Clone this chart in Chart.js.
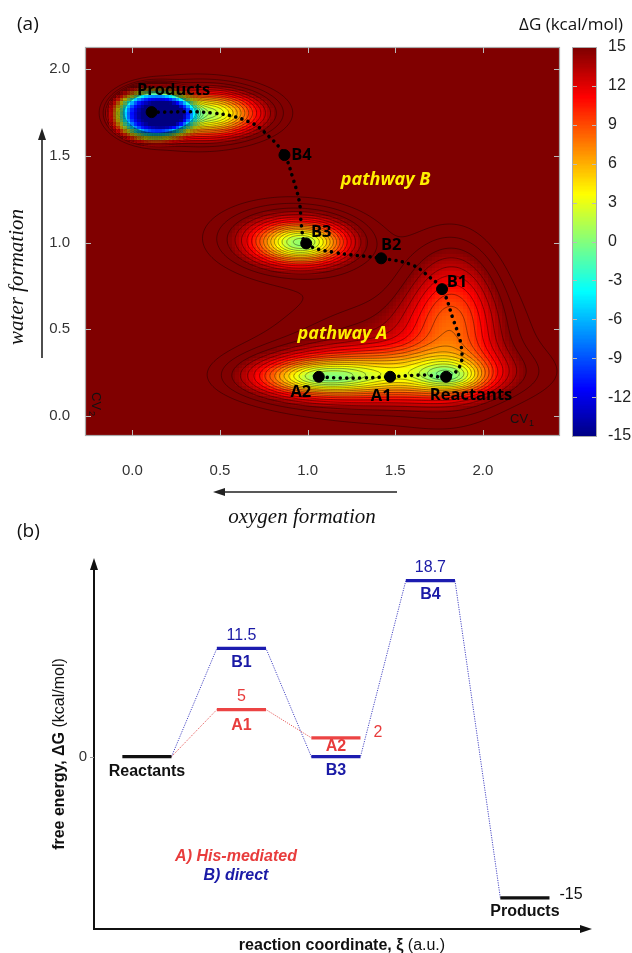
<!DOCTYPE html>
<html>
<head>
<meta charset="utf-8">
<script src="https://cdn.jsdelivr.net/npm/chart.js@4.4.1/dist/chart.umd.min.js"></script>
<style>
  body { margin: 0; background: #fff; }
  #wrap { position: relative; width: 632px; height: 953px; }
  #fes { position: absolute; left: 0; top: 0; }
  #profile { position: absolute; left: 0; top: 510px; }
</style>
</head>
<body>
<div id="wrap">
  <canvas id="fes" width="632" height="545"></canvas>
  <canvas id="profile" width="632" height="443"></canvas>
</div>
<script>
// ---------- panel (a): free energy surface on CV1 / CV2 ----------
const cv1Range = [-0.27, 2.44];
const cv2Range = [-0.117, 2.129];
const cvTicks = [0.0, 0.5, 1.0, 1.5, 2.0];
const dgRange = [-15, 15];
const dgTicks = [-15, -12, -9, -6, -3, 0, 3, 6, 9, 12, 15];

// basins: centre, depth below the flat plateau, widths, flatness
const plateau = 19;
const wellCV1   = [0.12, 0.42, 0.30, 0.97, 0.90, 1.82, 1.06, 1.45, 1.83, 1.50, 1.00];
const wellCV2   = [1.748, 1.748, 1.75, 1.00, 1.03, 0.23, 0.225, 0.24, 0.60, 0.35, 0.22];
const wellDepth = [28, 15, 3, 12, 6.5, 5.5, 5.5, 8.5, 7.5, 5, 4];
const wellSig1  = [0.18, 0.22, 0.38, 0.17, 0.32, 0.13, 0.20, 0.45, 0.19, 0.55, 0.30];
const wellSig2  = [0.12, 0.09, 0.18, 0.08, 0.15, 0.06, 0.06, 0.10, 0.30, 0.28, 0.10];
const wellPower = [2, 1, 1, 1, 1, 1, 1, 1, 1, 1, 1];

// states on the map
const stateName = ['Products', 'B4', 'B3', 'B2', 'B1', 'Reactants', 'A1', 'A2'];
const stateCV1  = [0.11, 0.868, 0.992, 1.42, 1.767, 1.79, 1.471, 1.064];
const stateCV2  = [1.753, 1.505, 0.995, 0.909, 0.731, 0.225, 0.225, 0.225];

// dotted minimum free energy path
const pathCV1 = [0.11, 0.458, 0.669, 0.783, 0.868, 0.914, 0.954, 0.966, 0.992, 1.142, 1.42, 1.598, 1.695, 1.767,
                 1.826, 1.877, 1.866, 1.79, 1.678, 1.471, 1.313, 1.182, 1.064];
const pathCV2 = [1.753, 1.748, 1.696, 1.609, 1.505, 1.378, 1.228, 1.089, 0.995, 0.945, 0.909, 0.870, 0.801, 0.731,
                 0.570, 0.397, 0.281, 0.225, 0.235, 0.225, 0.218, 0.218, 0.225];

// ---------- panel (b): free energy profile ----------
const levelName = ['Reactants', 'B1', 'A1', 'A2', 'B3', 'B4', 'Products'];
const levelSlot = [0, 1, 1, 2, 2, 3, 4];
const levelDG   = [0, 11.5, 5, 2, 0, 18.7, -15];
const levelShowValue = [false, true, true, true, false, true, true];
const pathwayA = ['Reactants', 'A1', 'A2'];
const pathwayB = ['Reactants', 'B1', 'B3', 'B4', 'Products'];

// ---------- styles ----------
const cellStep = 0.02;
const contourStep = 0.01;
const contourMin = -4, contourMax = 17;
const labelOffset = {
  Products: [22, -22], B4: [17, 0], B3: [15, -11], B2: [10, -13],
  B1: [15, -7], Reactants: [25, 19], A1: [-9, 20], A2: [-18, 16]
};
const levelHalf = 0.26;
const levelColor = { Reactants: '#111', Products: '#111', B1: '#1c1cb0', B3: '#1c1cb0', B4: '#1c1cb0', A1: '#ec4444', A2: '#ec4444' };
const textColor = { Reactants: '#111', Products: '#111', B1: '#1a1aa6', B3: '#1a1aa6', B4: '#1a1aa6', A1: '#e83c3c', A2: '#e83c3c' };

function energyAt(c1, c2) {
  let e = plateau;
  for (let k = 0; k < wellCV1.length; k++) {
    const a = (c1 - wellCV1[k]) / wellSig1[k];
    const b = (c2 - wellCV2[k]) / wellSig2[k];
    e -= wellDepth[k] * Math.exp(-0.5 * Math.pow(a * a + b * b, wellPower[k]));
  }
  return e;
}

function jet(v) {
  let t = (v - dgRange[0]) / (dgRange[1] - dgRange[0]);
  t = Math.max(0, Math.min(1, t));
  const c = u => Math.round(255 * Math.max(0, Math.min(1, u)));
  return 'rgb(' + c(1.5 - Math.abs(4 * t - 3)) + ',' + c(1.5 - Math.abs(4 * t - 2)) + ',' + c(1.5 - Math.abs(4 * t - 1)) + ')';
}

const surfacePlugin = {
  id: 'surface',
  beforeDatasetsDraw(chart) {
    const { ctx, chartArea: a, scales } = chart;
    const sx = scales.x, sy = scales.y, cb = scales.cb;
    ctx.save();
    ctx.beginPath();
    ctx.rect(a.left, a.top, a.right - a.left, a.bottom - a.top);
    ctx.clip();
    // coloured cells
    const n1 = Math.ceil((cv1Range[1] - cv1Range[0]) / cellStep);
    const n2 = Math.ceil((cv2Range[1] - cv2Range[0]) / cellStep);
    for (let i = 0; i < n1; i++) {
      const c1 = cv1Range[0] + i * cellStep;
      const xa = Math.floor(sx.getPixelForValue(c1)), xb = Math.ceil(sx.getPixelForValue(c1 + cellStep));
      for (let j = 0; j < n2; j++) {
        const c2 = cv2Range[0] + j * cellStep;
        const ya = Math.floor(sy.getPixelForValue(c2 + cellStep)), yb = Math.ceil(sy.getPixelForValue(c2));
        ctx.fillStyle = jet(energyAt(c1 + cellStep / 2, c2 + cellStep / 2));
        ctx.fillRect(xa, ya, xb - xa + 1, yb - ya + 1);
      }
    }
    // contour lines, marching squares
    const m1 = Math.ceil((cv1Range[1] - cv1Range[0]) / contourStep) + 1;
    const m2 = Math.ceil((cv2Range[1] - cv2Range[0]) / contourStep) + 1;
    const gx = [], gy = [], g = [];
    for (let i = 0; i < m1; i++) gx.push(sx.getPixelForValue(cv1Range[0] + i * contourStep));
    for (let j = 0; j < m2; j++) gy.push(sy.getPixelForValue(cv2Range[0] + j * contourStep));
    for (let i = 0; i < m1; i++) {
      const row = [];
      for (let j = 0; j < m2; j++) row.push(energyAt(cv1Range[0] + i * contourStep, cv2Range[0] + j * contourStep));
      g.push(row);
    }
    ctx.strokeStyle = 'rgba(0,0,0,0.55)';
    ctx.lineWidth = 0.7;
    ctx.beginPath();
    for (let i = 0; i < m1 - 1; i++) {
      for (let j = 0; j < m2 - 1; j++) {
        const v = [g[i][j], g[i + 1][j], g[i + 1][j + 1], g[i][j + 1]];
        const px = [gx[i], gx[i + 1], gx[i + 1], gx[i]];
        const py = [gy[j], gy[j], gy[j + 1], gy[j + 1]];
        const lo = Math.min(v[0], v[1], v[2], v[3]), hi = Math.max(v[0], v[1], v[2], v[3]);
        for (let L = Math.max(contourMin, Math.ceil(lo)); L <= Math.min(contourMax, Math.floor(hi)); L++) {
          const pts = [];
          for (let e = 0; e < 4; e++) {
            const p = e, q = (e + 1) % 4;
            if ((v[p] < L) !== (v[q] < L)) {
              const t = (L - v[p]) / (v[q] - v[p]);
              pts.push(px[p] + t * (px[q] - px[p]), py[p] + t * (py[q] - py[p]));
            }
          }
          if (pts.length >= 4) { ctx.moveTo(pts[0], pts[1]); ctx.lineTo(pts[2], pts[3]); }
          if (pts.length === 8) { ctx.moveTo(pts[4], pts[5]); ctx.lineTo(pts[6], pts[7]); }
        }
      }
    }
    ctx.stroke();
    ctx.restore();

    // colour bar
    ctx.save();
    const nb = 300, db = (dgRange[1] - dgRange[0]) / nb;
    for (let k = 0; k < nb; k++) {
      const v = dgRange[0] + k * db;
      const ya = cb.getPixelForValue(v + db), yb = cb.getPixelForValue(v);
      ctx.fillStyle = jet(v + db / 2);
      ctx.fillRect(573, Math.floor(ya), 23, Math.ceil(yb) - Math.floor(ya) + 1);
    }
    ctx.strokeStyle = '#aaa';
    ctx.lineWidth = 1;
    ctx.strokeRect(572.5, cb.top + 0.5, 24, cb.bottom - cb.top);
    ctx.strokeStyle = '#bbb';
    ctx.beginPath();
    dgTicks.slice(1, -1).forEach(v => {
      const yy = Math.round(cb.getPixelForValue(v)) + 0.5;
      ctx.moveTo(573, yy); ctx.lineTo(577, yy);
      ctx.moveTo(592, yy); ctx.lineTo(596, yy);
    });
    ctx.stroke();
    ctx.restore();
  },
  afterDatasetsDraw(chart) {
    const { ctx, chartArea: a, scales: { x, y } } = chart;
    ctx.save();
    // frame and inner ticks
    ctx.strokeStyle = '#aaa';
    ctx.lineWidth = 1.2;
    ctx.strokeRect(a.left + 0.5, a.top + 0.5, a.right - a.left - 1, a.bottom - a.top - 1);
    ctx.strokeStyle = '#bbb';
    ctx.lineWidth = 1;
    ctx.beginPath();
    cvTicks.forEach(v => {
      const xx = Math.round(x.getPixelForValue(v)) + 0.5;
      ctx.moveTo(xx, a.bottom); ctx.lineTo(xx, a.bottom - 6);
      ctx.moveTo(xx, a.top); ctx.lineTo(xx, a.top + 6);
      const yy = Math.round(y.getPixelForValue(v)) + 0.5;
      ctx.moveTo(a.left, yy); ctx.lineTo(a.left + 6, yy);
      ctx.moveTo(a.right, yy); ctx.lineTo(a.right - 6, yy);
    });
    ctx.stroke();

    // state labels
    ctx.fillStyle = '#000';
    ctx.font = 'bold 16.5px "Open Sans"';
    ctx.textAlign = 'center';
    ctx.textBaseline = 'middle';
    stateName.forEach((n, i) => {
      const off = labelOffset[n];
      ctx.fillText(n, x.getPixelForValue(stateCV1[i]) + off[0], y.getPixelForValue(stateCV2[i]) + off[1]);
    });
    ctx.fillStyle = '#fff000';
    ctx.font = 'italic bold 18px "Open Sans"';
    ctx.fillText('pathway B', x.getPixelForValue(1.445), y.getPixelForValue(1.36));
    ctx.fillText('pathway A', x.getPixelForValue(1.199), y.getPixelForValue(0.471));

    // CV1 / CV2 corner marks
    ctx.fillStyle = '#111';
    ctx.font = '13px "Liberation Sans"';
    ctx.textAlign = 'left';
    ctx.fillText('CV', a.right - 50, a.bottom - 17);
    ctx.font = '9px "Liberation Sans"';
    ctx.fillText('1', a.right - 31, a.bottom - 12);
    ctx.translate(a.left + 11, a.bottom - 44);
    ctx.rotate(Math.PI / 2);
    ctx.font = '13px "Liberation Sans"';
    ctx.fillText('CV', 0, 0);
    ctx.font = '9px "Liberation Sans"';
    ctx.fillText('2', 19, 5);
    ctx.restore();
  },
  afterDraw(chart) {
    const { ctx } = chart;
    ctx.save();
    ctx.fillStyle = '#111';
    ctx.font = '19px "Open Sans"';
    ctx.textBaseline = 'middle';
    ctx.textAlign = 'left';
    ctx.fillText('(a)', 17, 25);
    ctx.font = '17px "Open Sans"';
    ctx.textAlign = 'right';
    ctx.fillText('\u0394G (kcal/mol)', 623, 25);

    // axis titles with arrows
    ctx.font = 'italic 21px "Liberation Serif"';
    ctx.textAlign = 'center';
    ctx.fillText('oxygen formation', 302, 517);
    ctx.save();
    ctx.translate(17, 277);
    ctx.rotate(-Math.PI / 2);
    ctx.fillText('water formation', 0, 0);
    ctx.restore();

    ctx.strokeStyle = '#222';
    ctx.fillStyle = '#222';
    ctx.lineWidth = 1.6;
    ctx.beginPath();
    ctx.moveTo(42, 358); ctx.lineTo(42, 138);
    ctx.moveTo(397, 492); ctx.lineTo(223, 492);
    ctx.stroke();
    ctx.beginPath();
    ctx.moveTo(42, 128); ctx.lineTo(38, 140); ctx.lineTo(46, 140); ctx.closePath();
    ctx.moveTo(213, 492); ctx.lineTo(225, 488); ctx.lineTo(225, 496); ctx.closePath();
    ctx.fill();
    ctx.restore();
  }
};

const tickFont = { family: 'Liberation Sans', size: 15 };

new Chart(document.getElementById('fes'), {
  type: 'scatter',
  data: {
    datasets: [
      {
        type: 'line',
        data: pathCV1.map((v, i) => ({ x: v, y: pathCV2[i] })),
        borderColor: '#000',
        borderWidth: 3.6,
        borderDash: [0.01, 6.5],
        borderCapStyle: 'round',
        pointRadius: 0,
        tension: 0.4,
        fill: false,
        order: 2
      },
      {
        data: stateCV1.map((v, i) => ({ x: v, y: stateCV2[i] })),
        backgroundColor: '#000',
        borderColor: '#000',
        pointRadius: 5.5,
        order: 1
      }
    ]
  },
  options: {
    responsive: false,
    animation: false,
    events: [],
    layout: { padding: { top: 47, right: 0, left: 0, bottom: 0 } },
    plugins: { legend: { display: false }, tooltip: { enabled: false } },
    scales: {
      x: {
        type: 'linear', min: cv1Range[0], max: cv1Range[1],
        afterBuildTicks: s => { s.ticks = cvTicks.map(v => ({ value: v })); },
        grid: { display: false, drawTicks: false }, border: { display: false },
        ticks: { padding: 26, font: tickFont, color: '#333', callback: v => v.toFixed(1) },
        afterFit: s => { s.height = 109; }
      },
      y: {
        type: 'linear', min: cv2Range[0], max: cv2Range[1],
        afterBuildTicks: s => { s.ticks = cvTicks.map(v => ({ value: v })); },
        grid: { display: false, drawTicks: true, tickLength: 11 }, border: { display: false },
        ticks: { padding: 4, font: tickFont, color: '#333', callback: v => v.toFixed(1) },
        afterFit: s => { s.width = 85; }
      },
      cb: {
        type: 'linear', axis: 'y', position: 'right', min: dgRange[0], max: dgRange[1],
        afterBuildTicks: s => { s.ticks = dgTicks.map(v => ({ value: v })); },
        grid: { display: false, drawTicks: true, tickLength: 44 }, border: { display: false },
        ticks: { padding: 4, font: { family: 'Liberation Sans', size: 16 }, color: '#222' },
        afterFit: s => { s.width = 72; }
      }
    }
  },
  plugins: [surfacePlugin]
});

// ---------- panel (b) ----------
function idx(n) { return levelName.indexOf(n); }

function connector(order) {
  const pts = [];
  for (let k = 0; k < order.length - 1; k++) {
    const a = idx(order[k]), b = idx(order[k + 1]);
    pts.push({ x: levelSlot[a] + levelHalf, y: levelDG[a] });
    pts.push({ x: levelSlot[b] - levelHalf, y: levelDG[b] });
  }
  return pts;
}

const profileSets = [
  { data: connector(pathwayB), borderColor: '#4a4ac4', borderWidth: 1, borderDash: [1.2, 1.2], order: 3 },
  { data: connector(pathwayA), borderColor: '#e66060', borderWidth: 1, borderDash: [1.2, 1.2], order: 2 }
];
levelName.forEach((n, i) => {
  profileSets.push({
    data: [{ x: levelSlot[i] - levelHalf, y: levelDG[i] }, { x: levelSlot[i] + levelHalf, y: levelDG[i] }],
    borderColor: levelColor[n], borderWidth: 3.2, order: 1
  });
});
profileSets.forEach(d => { d.type = 'line'; d.pointRadius = 0; d.fill = false; d.tension = 0; });

const profilePlugin = {
  id: 'profileDecor',
  afterDraw(chart) {
    const { ctx, chartArea: a, scales: { x, y } } = chart;
    ctx.save();
    // axes with arrow heads
    ctx.strokeStyle = '#111';
    ctx.fillStyle = '#111';
    ctx.lineWidth = 2;
    ctx.beginPath();
    ctx.moveTo(a.left, a.bottom); ctx.lineTo(a.left, a.top + 8);
    ctx.moveTo(a.left - 1, a.bottom); ctx.lineTo(a.right - 8, a.bottom);
    ctx.stroke();
    ctx.beginPath();
    ctx.moveTo(a.left, a.top); ctx.lineTo(a.left - 4, a.top + 12); ctx.lineTo(a.left + 4, a.top + 12); ctx.closePath();
    ctx.moveTo(a.right, a.bottom); ctx.lineTo(a.right - 12, a.bottom - 4); ctx.lineTo(a.right - 12, a.bottom + 4); ctx.closePath();
    ctx.fill();
    const y0 = Math.round(y.getPixelForValue(0)) + 0.5;
    ctx.strokeStyle = '#999';
    ctx.lineWidth = 1;
    ctx.beginPath(); ctx.moveTo(a.left - 4, y0); ctx.lineTo(a.left, y0); ctx.stroke();

    // level names and values
    ctx.textAlign = 'center';
    ctx.textBaseline = 'middle';
    const nameDy = { Reactants: 15, B1: 14, A1: 16, A2: 9, B3: 14, B4: 14, Products: 14 };
    levelName.forEach((n, i) => {
      const cx = x.getPixelForValue(levelSlot[i]);
      const cy = y.getPixelForValue(levelDG[i]);
      ctx.fillStyle = textColor[n];
      ctx.font = 'bold 16px "Liberation Sans"';
      ctx.fillText(n, cx, cy + nameDy[n]);
      if (levelShowValue[i]) {
        ctx.font = '16px "Liberation Sans"';
        const txt = String(levelDG[i]);
        if (n === 'A2' || n === 'Products') {
          ctx.textAlign = 'left';
          const ex = x.getPixelForValue(levelSlot[i] + levelHalf);
          ctx.fillText(txt, ex + (n === 'A2' ? 13 : 10), cy + (n === 'A2' ? -5 : -3));
          ctx.textAlign = 'center';
        } else {
          ctx.fillText(txt, cx, cy - 13);
        }
      }
    });

    // pathway key
    ctx.font = 'italic bold 16px "Liberation Sans"';
    ctx.fillStyle = '#e83c3c';
    ctx.fillText('A) His-mediated', 236, 347);
    ctx.fillStyle = '#1a1aa6';
    ctx.fillText('B) direct', 236, 366);

    // axis titles (bold + regular parts)
    ctx.fillStyle = '#111';
    function mixed(boldTxt, normTxt, cx, cy) {
      ctx.font = 'bold 16px "Liberation Sans"';
      const wb = ctx.measureText(boldTxt).width;
      ctx.font = '16px "Liberation Sans"';
      const wn = ctx.measureText(normTxt).width;
      const x0 = cx - (wb + wn) / 2;
      ctx.textAlign = 'left';
      ctx.font = 'bold 16px "Liberation Sans"';
      ctx.fillText(boldTxt, x0, cy);
      ctx.font = '16px "Liberation Sans"';
      ctx.fillText(normTxt, x0 + wb, cy);
    }
    mixed('reaction coordinate, \u03BE ', '(a.u.)', (a.left + a.right) / 2 - 1, 436);
    ctx.save();
    ctx.translate(60, 244);
    ctx.rotate(-Math.PI / 2);
    mixed('free energy, \u0394G ', '(kcal/mol)', 0, 0);
    ctx.restore();

    ctx.font = '19px "Open Sans"';
    ctx.textAlign = 'left';
    ctx.fillText('(b)', 17, 22);
    ctx.restore();
  }
};

new Chart(document.getElementById('profile'), {
  type: 'scatter',
  data: { datasets: profileSets },
  options: {
    responsive: false,
    animation: false,
    events: [],
    layout: { padding: { top: 48, right: 40, left: 0, bottom: 0 } },
    plugins: { legend: { display: false }, tooltip: { enabled: false } },
    scales: {
      x: {
        type: 'linear', min: -0.56, max: 4.71,
        grid: { display: false, drawTicks: false }, border: { display: false },
        ticks: { display: false },
        afterFit: s => { s.height = 24; }
      },
      y: {
        type: 'linear', min: -18.3, max: 21.1,
        afterBuildTicks: s => { s.ticks = [{ value: 0 }]; },
        grid: { display: false, drawTicks: false }, border: { display: false },
        ticks: { padding: 7, font: tickFont, color: '#333' },
        afterFit: s => { s.width = 94; }
      }
    }
  },
  plugins: [profilePlugin]
});
</script>
</body>
</html>
